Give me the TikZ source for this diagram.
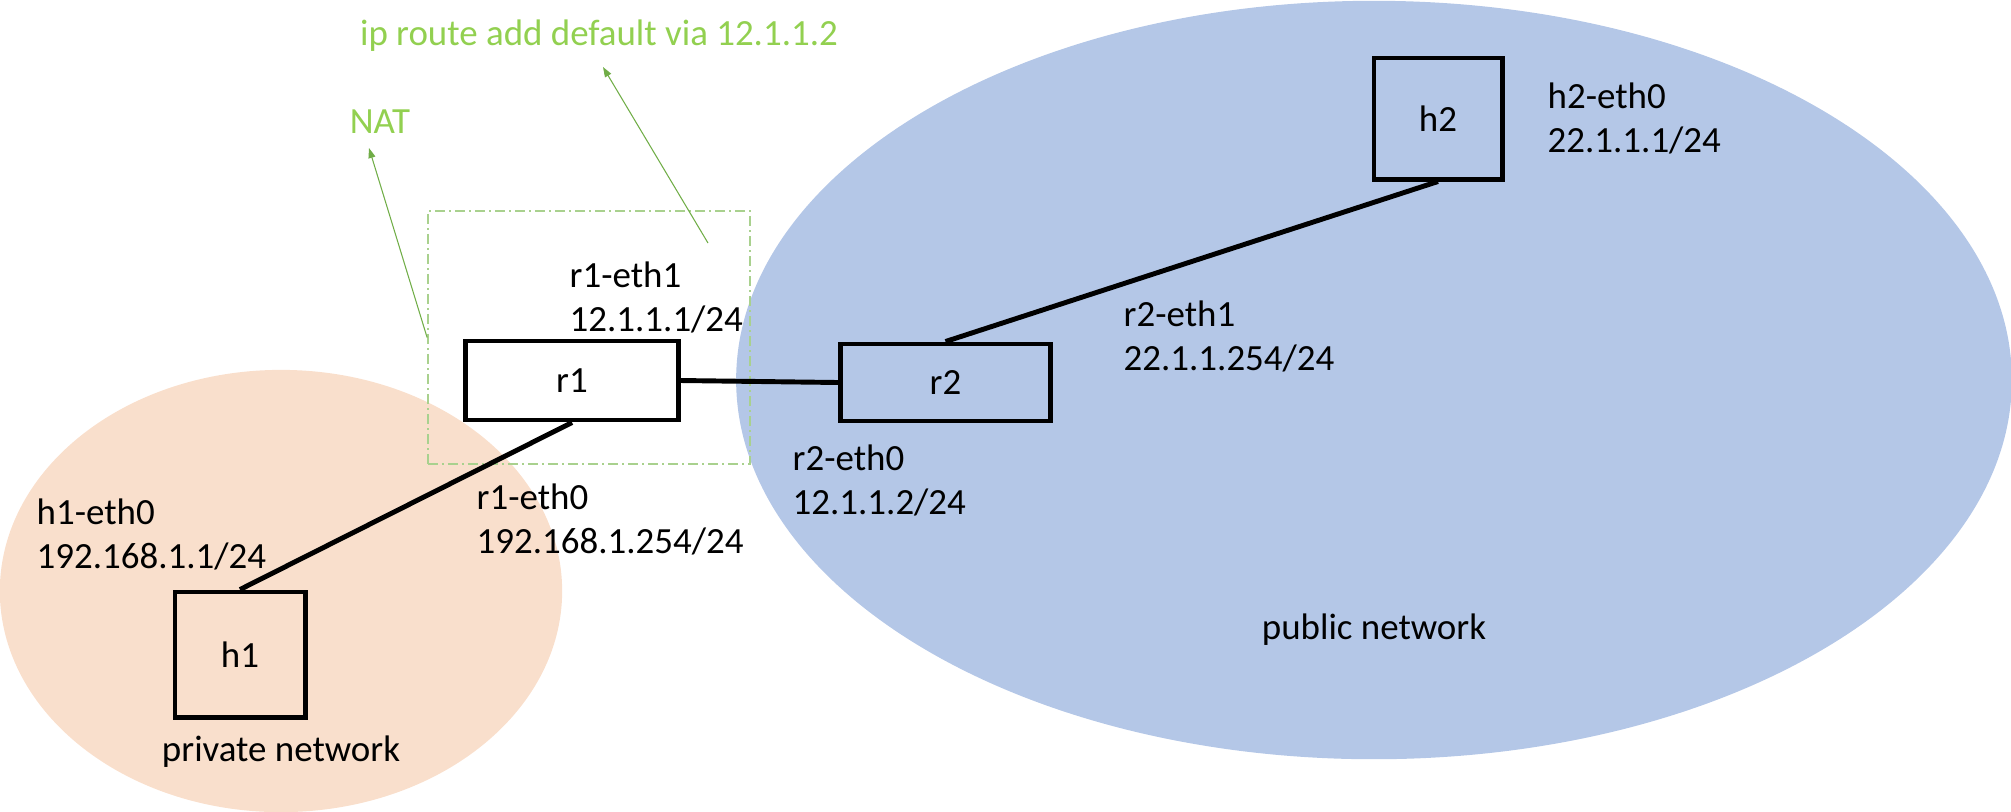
\documentclass[tikz,border=0pt]{standalone}
\usepackage{fontspec}
\setmainfont{Carlito}
\usetikzlibrary{arrows.meta,positioning}
\definecolor{pubblue}{HTML}{B4C7E7}
\definecolor{privorange}{HTML}{F9DFCC}
\definecolor{notegreen}{HTML}{92D050}
\definecolor{arrowgreen}{HTML}{70AD47}
\definecolor{boxgreen}{HTML}{A9D18E}
\tikzset{
  dev/.style={draw=black,line width=1.4pt,inner sep=0pt},
  link/.style={black,line width=1.4pt},
  iface/.style={anchor=west,align=left,inner sep=0pt},
  note/.style={text=notegreen,inner sep=0pt},
  pointer/.style={arrowgreen,line width=0.3pt,-{Triangle[length=0.1cm,width=0.07cm]}}
}
\begin{document}
\begin{tikzpicture}[x=0.01cm,y=-0.01cm,font=\fontsize{10.5}{12.5}\selectfont]
        \useasboundingbox (0,0) rectangle (2011,811);
        \fill[privorange] (281,591) ellipse [x radius=2.81cm, y radius=2.21cm];
        \fill[pubblue] (1374,380) ellipse [x radius=6.375cm, y radius=3.79cm];
        \node[draw=boxgreen,line width=0.45pt,dash pattern=on 0.1cm off 0.04cm on 0.02cm off 0.04cm,
              minimum width=3.22cm,minimum height=2.53cm] (natbox) at (589,337.5) {};
        \node[dev,minimum width=2.12cm,minimum height=0.79cm] (r1) at (572,380.5) {r1};
        \node[dev,minimum width=2.09cm,minimum height=0.77cm] (r2) at (945.5,382.5) {r2};
        \node[dev,minimum width=1.30cm,minimum height=1.25cm] (h1) at (240,654.5) {h1};
        \node[dev,minimum width=1.28cm,minimum height=1.21cm] (h2) at (1438,118.5) {h2};
        \draw[link] (h1.north) -- (r1.south);
        \draw[link] (r1.east) -- (r2.west);
        \draw[link] (r2.north) -- (h2.south);
        \node[iface] (h1eth0) at (36,534) {h1-eth0\\192.168.1.1/24};
        \node[iface] (r1eth0) at (476,519) {r1-eth0\\192.168.1.254/24};
        \node[iface] (r1eth1) at (569,297) {r1-eth1\\12.1.1.1/24};
        \node[iface] (r2eth0) at (792,480) {r2-eth0\\12.1.1.2/24};
        \node[iface] (r2eth1) at (1123,336) {r2-eth1\\22.1.1.254/24};
        \node[iface] (h2eth0) at (1547,118) {h2-eth0\\22.1.1.1/24};
        \node[inner sep=0pt] (privnet) at (281,752) {private network};
        \node[inner sep=0pt] (pubnet) at (1374,630) {public network};
        \node[note] (nat) at (380,122) {NAT};
        \node[note] (route) at (599,36) {ip route add default via 12.1.1.2};
        \coordinate (natto) at (369,148);
        \coordinate (routefrom) at (708,243);
        \coordinate (routeto) at (603,67);
        \draw[pointer] (natbox.west) -- (natto);
        \draw[pointer] (routefrom) -- (routeto);
    \end{tikzpicture}
\end{document}
